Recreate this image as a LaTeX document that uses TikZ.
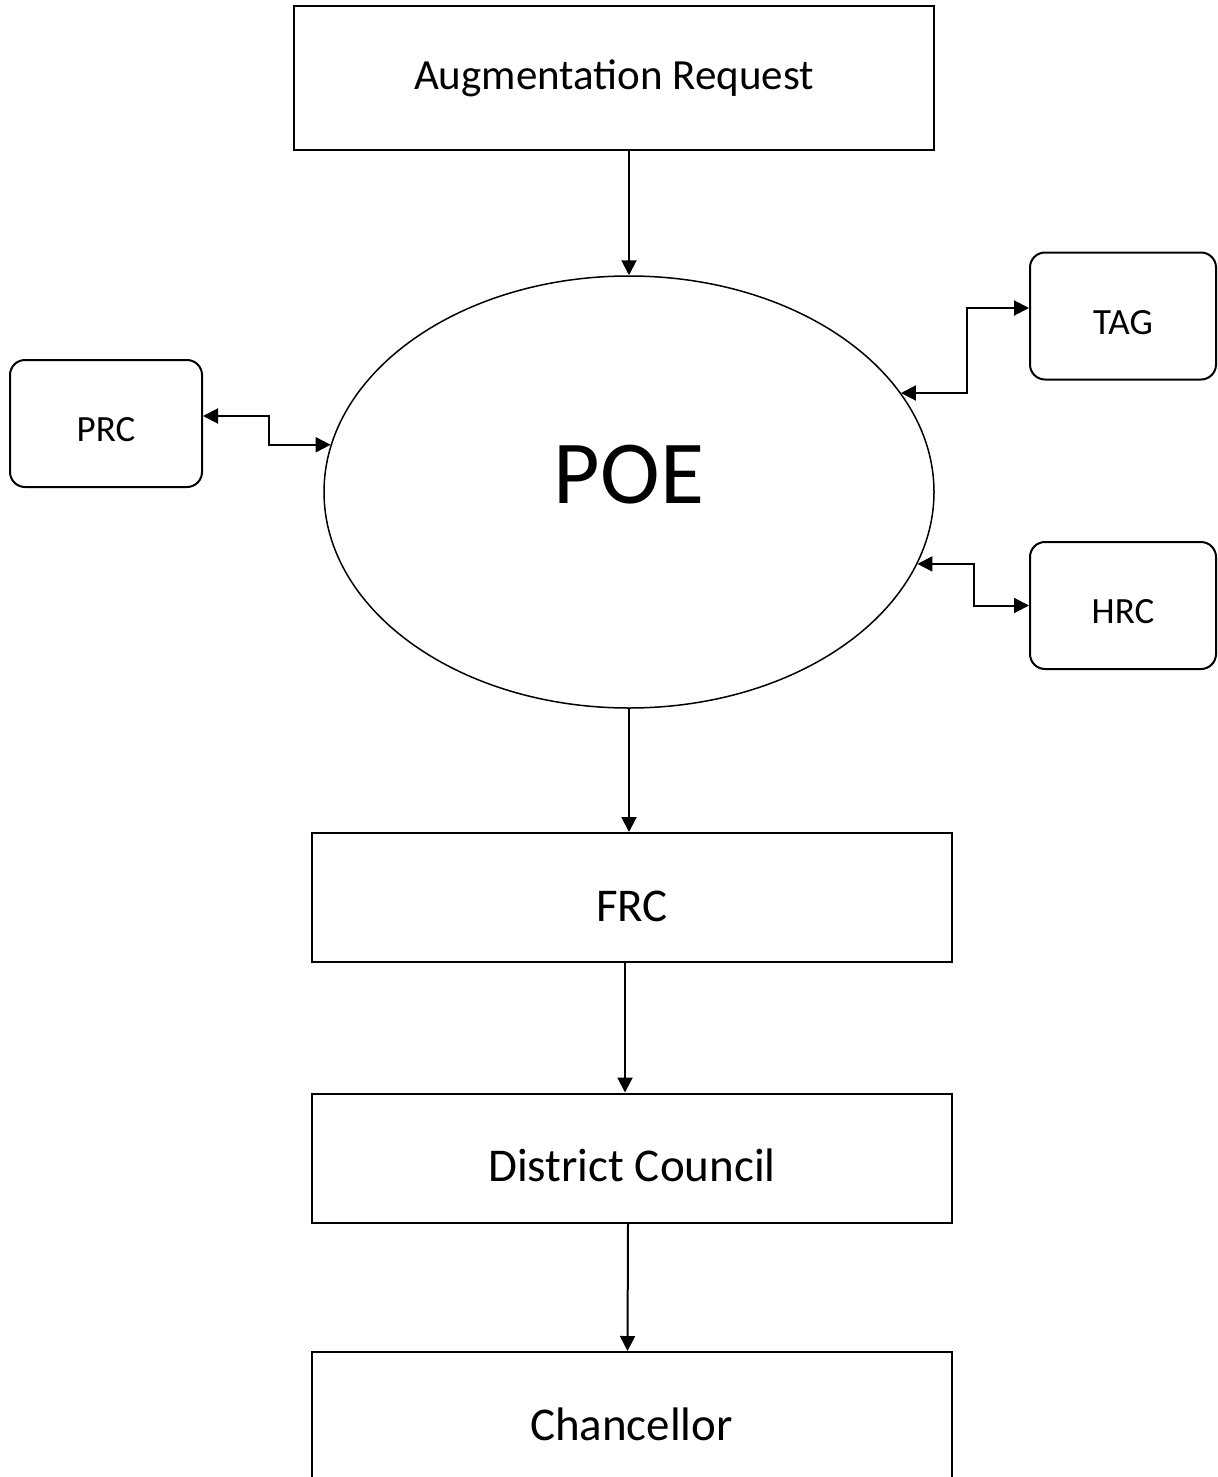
\documentclass[tikz,border=0pt]{standalone}
\usepackage{fontspec}
\setmainfont{Carlito}
\usetikzlibrary{arrows.meta,shapes.geometric}
\begin{document}
\begin{tikzpicture}[x=0.5pt,y=-0.5pt,
    box/.style={draw,line width=1pt,minimum width=320pt,minimum height=64.5pt,
      text height=23.9pt,text depth=0pt,font=\fontsize{23.5}{28}\selectfont},
    side/.style={draw,line width=1pt,rounded corners=7.5pt,minimum height=63.5pt,
      text height=18pt,text depth=0pt,font=\fontsize{18.5}{22}\selectfont},
    link/.style={line width=1pt,-{Triangle[length=7.5pt,width=7.5pt]}},
    twoway/.style={line width=1pt,{Triangle[length=7.5pt,width=7.5pt]}-{Triangle[length=7.5pt,width=7.5pt]}}]
    \useasboundingbox (0,0) rectangle (1217,1477);
    \clip (0,0) rectangle (1217,1477);
    \node[draw,line width=1pt,minimum width=320pt,minimum height=72pt,font=\fontsize{21.5}{26}\selectfont] (aug) at (614,78) {Augmentation Request};
    \node[draw,ellipse,line width=0.75pt,inner sep=0pt,minimum width=305pt,minimum height=216pt] (poe) at (629,492) {};
    \node[font=\fontsize{45}{54}\selectfont] (poetext) at (629,475) {POE};
    \node[side,minimum width=96pt] (prc) at (106,423.5) {PRC};
    \node[side,minimum width=93pt] (tag) at (1123,316) {TAG};
    \node[side,minimum width=93pt] (hrc) at (1123,605.5) {HRC};
    \node[box] (frc) at (632,897.5) {FRC};
    \node[box] (dc) at (632,1158) {District Council};
    \node[box] (chan) at (631.5,1416.5) {Chancellor};
    % main flow
    \draw[link] (aug.south -| poe.north) -- (poe.north);
    \draw[link] (poe.south) -- (poe.south |- frc.north);
    \draw[link] ([xshift=-3.5pt]frc.south) -- ([xshift=-3.5pt]dc.north);
    \draw[link] ([xshift=-2pt]dc.south) -- ([xshift=-2pt]chan.north);
    % committees around POE
    \draw[twoway] ([yshift=3.75pt]prc.east) -- ++(66,0) |- (poe.171.6);
    \draw[twoway] (poe.20.6) -- ++(66,0) |- ([yshift=4pt]tag.west);
    \draw[twoway] (poe.-14.8) -- ++(57,0) |- (hrc.west);
\end{tikzpicture}
\end{document}
